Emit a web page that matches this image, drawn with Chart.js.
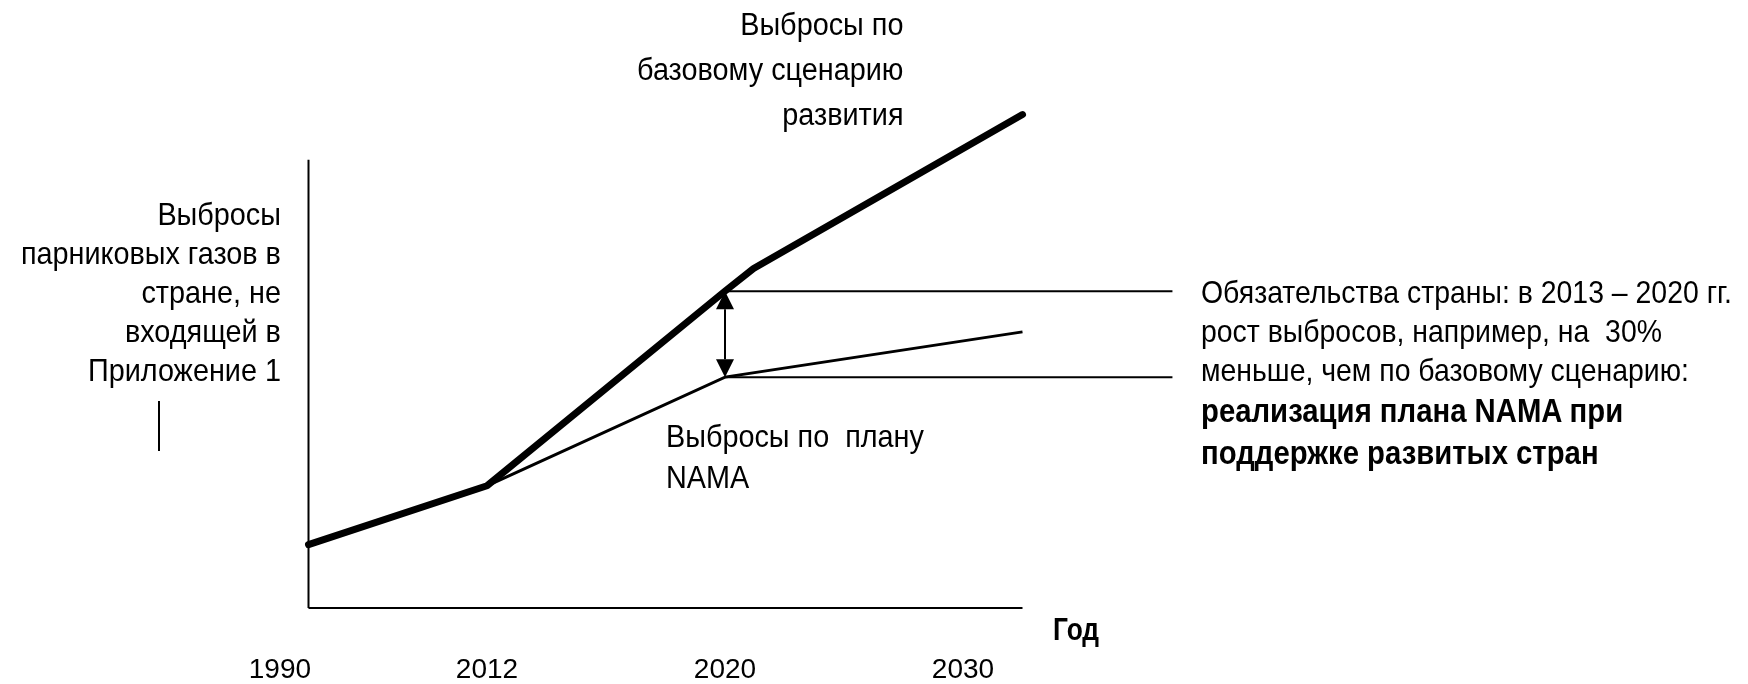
<!DOCTYPE html>
<html>
<head>
<meta charset="utf-8">
<title>Выбросы парниковых газов: базовый сценарий и NAMA</title>
<script src="https://cdn.jsdelivr.net/npm/chart.js@4.4.1/dist/chart.umd.min.js"></script>
<style>
  html, body { margin: 0; padding: 0; background: #fff; overflow: hidden; }
  #wrap { position: relative; width: 1748px; height: 684px; overflow: hidden; }
  #chart { position: absolute; left: 0; top: 0; }
  .note {
    position: absolute;
    font-family: "Liberation Sans", Arial, sans-serif;
    color: #000;
    white-space: nowrap;
  }
  .r { text-align: right; transform-origin: right center; }
  .l { transform-origin: left center; }
  #ylabel { right: 1467px; top: 195px; font-size: 32px; line-height: 39px; transform: scaleX(0.9); }
  #ymark { position: absolute; left: 158px; top: 401px; width: 2px; height: 50px; background: #000; }
  #baseLabel { right: 845px; top: 2px; font-size: 31px; line-height: 45px; transform: scaleX(0.93); }
  #namaLabel { left: 666px; top: 416px; font-size: 32px; line-height: 41px; transform: scaleX(0.9); }
  #yearLabel { left: 1053px; top: 611px; font-size: 31px; line-height: 38px; font-weight: bold; transform: scaleX(0.85); }
  #pledge { left: 1201px; top: 273px; font-size: 32px; line-height: 39px; transform: scaleX(0.888); }
  #pledge b { display: block; font-size: 33px; line-height: 42px; }
</style>
</head>
<body>
<div id="wrap">
  <canvas id="chart" width="1748" height="732"></canvas>
  <div class="note r" id="baseLabel">Выбросы по<br>базовому сценарию<br>развития</div>
  <div class="note r" id="ylabel">Выбросы<br>парниковых газов в<br>стране, не<br>входящей в<br>Приложение 1</div>
  <div id="ymark"></div>
  <div class="note l" id="namaLabel">Выбросы по&nbsp; плану<br>NAMA</div>
  <div class="note l" id="yearLabel">Год</div>
  <div class="note l" id="pledge">Обязательства страны: в 2013 – 2020 гг.<br>рост выбросов, например, на&nbsp; 30%<br>меньше, чем по базовому сценарию:<b>реализация плана NAMA при<br>поддержке развитых стран</b></div>
</div>

<script>
// schematic axis: 2012 = 1, 2020 = 2, 2030 = 3 (the picture is not to scale)
const tickYears = ['1990', '2012', '2020', '2030'];
const tickAt = [0.13, 1, 2, 3];

// baseline emissions (thick line)
const baseX = [0.25, 1, 2, 2.12, 3.25];
const baseY = [14, 27, 70, 75, 109];

// emissions under the NAMA plan (thin line)
const namaX = [1, 2, 3.25];
const namaY = [27, 51, 61];

// commitment levels drawn from 2020 to the right
const pledgeLevels = [70, 51];
const pledgeFrom = 2;
const pledgeTo = 3.88;

// axis extent
const axisStart = 0.25;
const axisEnd = 3.25;
const axisTop = 99;

function toPoints(xs, ys) {
  return xs.map((x, i) => ({ x: x, y: ys[i] }));
}

// double-headed arrow between the two lines at 2020
const arrowPlugin = {
  id: 'gapArrow',
  afterDatasetsDraw(chart) {
    const ctx = chart.ctx;
    const xs = chart.scales.x, ys = chart.scales.y;
    const px = xs.getPixelForValue(pledgeFrom);
    const top = ys.getPixelForValue(pledgeLevels[0]);
    const bottom = ys.getPixelForValue(pledgeLevels[1]);
    const head = 18, half = 9;
    ctx.save();
    ctx.strokeStyle = '#000';
    ctx.fillStyle = '#000';
    ctx.lineWidth = 2;
    ctx.beginPath();
    ctx.moveTo(px, top + head);
    ctx.lineTo(px, bottom - head);
    ctx.stroke();
    ctx.beginPath();
    ctx.moveTo(px, top);
    ctx.lineTo(px - half, top + head);
    ctx.lineTo(px + half, top + head);
    ctx.closePath();
    ctx.fill();
    ctx.beginPath();
    ctx.moveTo(px, bottom);
    ctx.lineTo(px - half, bottom - head);
    ctx.lineTo(px + half, bottom - head);
    ctx.closePath();
    ctx.fill();
    ctx.restore();
  }
};

const thin = { borderColor: '#000', borderWidth: 2, pointRadius: 0, fill: false };

const datasets = [
  Object.assign({ label: 'ось Y', data: [{ x: axisStart, y: 0 }, { x: axisStart, y: axisTop }] }, thin),
  Object.assign({ label: 'ось X', data: [{ x: axisStart, y: 0 }, { x: axisEnd, y: 0 }] }, thin)
];
pledgeLevels.forEach(function(level) {
  datasets.push(Object.assign({ label: 'обязательство', data: [{ x: pledgeFrom, y: level }, { x: pledgeTo, y: level }] }, thin));
});
datasets.push({
  label: 'NAMA',
  data: toPoints(namaX, namaY),
  borderColor: '#000',
  borderWidth: 3,
  pointRadius: 0
});
datasets.push({
  label: 'Базовый сценарий',
  data: toPoints(baseX, baseY),
  borderColor: '#000',
  borderWidth: 7,
  borderJoinStyle: 'round',
  borderCapStyle: 'round',
  pointRadius: 0
});

new Chart(document.getElementById('chart').getContext('2d'), {
  type: 'line',
  data: { datasets: datasets },
  options: {
    responsive: false,
    animation: false,
    clip: false,
    layout: { padding: { left: 249, right: 547, top: 101, bottom: 0 } },
    plugins: { legend: { display: false }, tooltip: { enabled: false } },
    scales: {
      x: {
        type: 'linear',
        min: 0,
        max: 4,
        grid: { display: false, drawTicks: false },
        border: { display: false },
        afterBuildTicks: function(scale) {
          scale.ticks = tickAt.map(v => ({ value: v }));
        },
        ticks: {
          autoSkip: false,
          maxRotation: 0,
          padding: 48,
          color: '#000',
          font: { family: '"Liberation Sans", Arial, sans-serif', size: 28, lineHeight: 1 },
          callback: function(value, index) { return tickYears[index]; }
        }
      },
      y: {
        type: 'linear',
        min: 0,
        max: 112,
        display: false
      }
    }
  },
  plugins: [arrowPlugin]
});
</script>
</body>
</html>
